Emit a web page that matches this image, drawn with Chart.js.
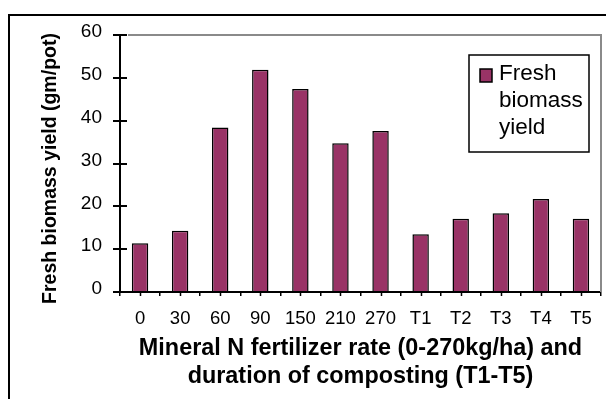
<!DOCTYPE html>
<html>
<head>
<meta charset="utf-8">
<script src="https://cdn.jsdelivr.net/npm/chart.js@4"></script>
<style>
  html, body { margin: 0; padding: 0; background: #fff; overflow: hidden; }
  #wrap { position: relative; width: 606px; height: 399px; overflow: hidden; }
  #frame { position: absolute; left: 8px; top: 14px; width: 800px; height: 600px; border: 2px solid #000; }
  canvas { position: absolute; left: 0; top: 0; }
</style>
</head>
<body>
<div id="wrap">
  <div id="frame"></div>
  <canvas id="c" width="606" height="399"></canvas>
</div>
<script>
const categories = ['0', '30', '60', '90', '150', '210', '270', 'T1', 'T2', 'T3', 'T4', 'T5'];
const freshBiomass = [11.4, 14.3, 38.4, 51.9, 47.4, 34.7, 37.6, 13.5, 17.1, 18.4, 21.7, 17.1];
const seriesLabel = 'Fresh biomass yield';
const yTitle = 'Fresh biomass yield (gm/pot)';
const xTitle = ['Mineral N fertilizer rate (0-270kg/ha) and', 'duration of composting (T1-T5)'];

const FONT = '"Liberation Sans", Arial, sans-serif';
const BAR = '#993366';

const extras = {
  id: 'extras',
  afterDraw(chart) {
    const ctx = chart.ctx;
    const a = chart.chartArea;
    const xs = chart.scales.x, ys = chart.scales.y;
    ctx.save();
    // plot area border (top / right) in gray
    ctx.strokeStyle = '#8a8a8a';
    ctx.lineWidth = 2;
    ctx.beginPath();
    ctx.moveTo(a.left + 8, a.top);
    ctx.lineTo(a.right, a.top);
    ctx.lineTo(a.right, a.bottom);
    ctx.stroke();
    // inner half of y ticks (cross ticks)
    ctx.strokeStyle = '#000';
    ctx.lineWidth = 2;
    ys.ticks.forEach((t, i) => {
      const y = Math.round(ys.getPixelForTick(i));
      ctx.beginPath();
      ctx.moveTo(a.left, y);
      ctx.lineTo(a.left + 7, y);
      ctx.stroke();
    });
    // small ticks at category centres
    ctx.lineWidth = 1.5;
    categories.forEach((c, i) => {
      const x = Math.round(xs.getPixelForValue(i)) + 0.5;
      ctx.beginPath();
      ctx.moveTo(x, a.bottom);
      ctx.lineTo(x, a.bottom + 4);
      ctx.stroke();
    });
    // y axis title
    ctx.save();
    ctx.translate(51, 168.5);
    ctx.rotate(-Math.PI / 2);
    ctx.fillStyle = '#000';
    ctx.font = 'bold 19.5px ' + FONT;
    ctx.textAlign = 'center';
    ctx.textBaseline = 'middle';
    ctx.fillText(yTitle, 0, 0);
    ctx.restore();
    // legend
    const ds = chart.data.datasets[0];
    const bx = 469, by = 55, bw = 120, bh = 97;
    ctx.fillStyle = '#fff';
    ctx.fillRect(bx, by, bw, bh);
    ctx.strokeStyle = '#000';
    ctx.lineWidth = 1.5;
    ctx.strokeRect(bx, by, bw, bh);
    ctx.fillStyle = ds.backgroundColor;
    ctx.fillRect(480, 69, 12, 13);
    ctx.lineWidth = 1.5;
    ctx.strokeRect(480, 69, 12, 13);
    ctx.fillStyle = '#000';
    ctx.font = '22.5px ' + FONT;
    ctx.textBaseline = 'alphabetic';
    ctx.textAlign = 'left';
    const words = ds.label.split(' ');
    words.forEach((w, i) => ctx.fillText(w, 499, 80 + i * 27));
    ctx.restore();
  }
};

new Chart(document.getElementById('c'), {
  type: 'bar',
  data: {
    labels: categories,
    datasets: [{
      label: seriesLabel,
      data: freshBiomass,
      backgroundColor: BAR,
      borderColor: '#000',
      borderWidth: 1.5,
      categoryPercentage: 1.0,
      barPercentage: 0.41
    }]
  },
  options: {
    responsive: false,
    animation: false,
    layout: { padding: { left: 0, top: 35, right: 5, bottom: 0 } },
    plugins: { legend: { display: false }, tooltip: { enabled: false } },
    scales: {
      x: {
        afterFit(s) { s.height = 107; },
        grid: { display: true, drawOnChartArea: false, offset: true, tickLength: 4, color: '#000', lineWidth: 1.5 },
        border: { display: true, color: '#000', width: 2 },
        ticks: { color: '#000', font: { family: FONT, size: 18.5 }, padding: 12, maxRotation: 0, autoSkip: false },
        title: {
          display: true, text: xTitle, color: '#000',
          font: { family: FONT, size: 23.4, weight: 'bold', lineHeight: 1.22 },
          padding: { top: 0, bottom: 8 }
        }
      },
      y: {
        min: 0, max: 60,
        afterFit(s) { s.width = 120; },
        grid: { display: true, drawOnChartArea: false, tickLength: 7, color: '#000', lineWidth: 2 },
        border: { display: true, color: '#000', width: 2 },
        ticks: { stepSize: 10, color: '#000', font: { family: FONT, size: 19 }, padding: 11, labelOffset: -3 },
        title: { display: false }
      }
    }
  },
  plugins: [extras]
});
</script>
</body>
</html>
